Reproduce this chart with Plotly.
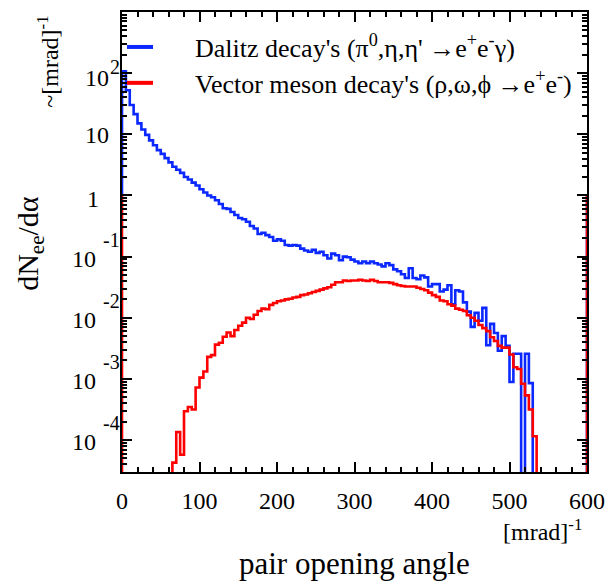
import math
import plotly.graph_objects as go

# ---------------- data ----------------
BIN_WIDTH = 5  # mrad
bin_lo = list(range(0, 600, BIN_WIDTH))  # lower bin edges [mrad]

dalitz = [
    107, 52.5, 30.2, 21.4, 15.1, 12.0, 9.77, 7.94, 6.61, 5.50,
    4.79, 4.07, 3.47, 2.95, 2.63, 2.34, 2.00, 1.82, 1.62, 1.45,
    1.26, 1.12, 1.00, 0.933, 0.832, 0.724, 0.617, 0.603, 0.537, 0.479,
    0.427, 0.407, 0.372, 0.316, 0.288, 0.234, 0.245, 0.224, 0.209, 0.182,
    0.191, 0.182, 0.155, 0.151, 0.155, 0.151, 0.135, 0.126, 0.120, 0.129,
    0.115, 0.120, 0.105, 0.0933, 0.112, 0.105, 0.0871, 0.100, 0.0977, 0.0891,
    0.0832, 0.0776, 0.0832, 0.0776, 0.0832, 0.0776, 0.0741, 0.0692, 0.0776, 0.0724,
    0.0617, 0.0575, 0.0513, 0.0447, 0.0646, 0.0447, 0.0427, 0.0490, 0.0457, 0.0324,
    0.0355, 0.0355, 0.0269, 0.0288, 0.0339, 0.0166, 0.0282, 0.0269, 0.0178, 0.0126,
    0.00708, 0.0120, 0.00891, 0.0145, 0.00355, 0.00794, 0.00562, 0.00288, 0.00501, 0.00347,
    0.000891, 0.00257, 0.00257, 0, 0.00257, 0.000851, 0, 0, 0, 0,
    0, 0, 0, 0, 0, 0, 0, 0, 0, 0,
]

vector = [
    0, 0, 0, 0, 0, 0, 0, 0, 0, 0,
    0, 0, 0, 4.27e-5, 1.35e-4, 5.75e-5, 2.95e-4, 3.47e-4, 3.16e-4, 7.24e-4,
    1.05e-3, 1.32e-3, 2.29e-3, 2.45e-3, 3.63e-3, 3.89e-3, 4.90e-3, 5.75e-3, 5.01e-3, 6.31e-3,
    7.41e-3, 8.32e-3, 0.0100, 0.00955, 0.0112, 0.0129, 0.0141, 0.0138, 0.0162, 0.0174,
    0.0186, 0.0191, 0.0200, 0.0204, 0.0214, 0.0219, 0.0234, 0.0240, 0.0251, 0.0263,
    0.0275, 0.0288, 0.0302, 0.0316, 0.0347, 0.0380, 0.0380, 0.0407, 0.0398, 0.0407,
    0.0407, 0.0417, 0.0407, 0.0398, 0.0417, 0.0398, 0.0380, 0.0380, 0.0380, 0.0372,
    0.0355, 0.0339, 0.0331, 0.0324, 0.0324, 0.0324, 0.0309, 0.0295, 0.0282, 0.0257,
    0.0234, 0.0219, 0.0191, 0.0186, 0.0166, 0.0158, 0.0141, 0.0135, 0.0129, 0.0110,
    0.0100, 0.00891, 0.00759, 0.00676, 0.00603, 0.00479, 0.00417, 0.00347, 0.00324, 0.00324,
    0.00251, 0.00155, 0.00145, 0.000832, 0.000537, 0.000316, 0.000115, 0, 0, 0,
    0, 0, 0, 0, 0, 0, 0, 0, 0, 0,
]

x_ticks = [0, 100, 200, 300, 400, 500, 600]
y_exponents = [-4, -3, -2, -1, 0, 1, 2]
series_names = ["Dalitz decay's (π<sup>0</sup>,η,η' →e<sup>+</sup>e<sup>-</sup>γ)",
                "Vector meson decay's (ρ,ω,ϕ →e<sup>+</sup>e<sup>-</sup>)"]

X_MAX = 600
Y_MIN, Y_MAX = 3e-5, 1e3
HIST_BASE = 1.0      # ROOT closes the outline at 1 on a log scale
EMPTY = 1e-9         # empty bins drop below the frame

FONT = "Liberation Serif"
BLUE = "#0a28ff"
RED = "#ff0000"


def step_path(values):
    xs = [0] + bin_lo + [X_MAX]
    ys = [HIST_BASE] + [v if v > 0 else EMPTY for v in values] + [HIST_BASE]
    return xs, ys


fig = go.Figure()
for vals, col in [(dalitz, BLUE), (vector, RED)]:
    xs, ys = step_path(vals)
    fig.add_trace(go.Scatter(x=xs, y=ys, mode="lines", line=dict(color=col, width=2.6, shape="hv"),
                             showlegend=False, hoverinfo="skip"))

minor_y = [m * 10 ** e for e in range(-5, 3) for m in range(2, 10) if Y_MIN <= m * 10 ** e <= Y_MAX]

fig.update_layout(
    width=616, height=582,
    margin=dict(l=122, r=29, t=10, b=110),
    paper_bgcolor="white", plot_bgcolor="white",
    font=dict(family=FONT, color="black"),
    xaxis=dict(range=[0, X_MAX], tickmode="array", tickvals=x_ticks,
               ticks="inside", ticklen=10, tickwidth=1.5, tickcolor="black",
               minor=dict(ticks="inside", dtick=20, ticklen=5, tickwidth=1.5, tickcolor="black"),
               showline=True, linewidth=2.2, linecolor="black", mirror="ticks",
               showgrid=False, zeroline=False,
               tickfont=dict(family=FONT, size=24, color="black"), ticklabelstandoff=6),
    yaxis=dict(type="log", range=[math.log10(Y_MIN), math.log10(Y_MAX)], tickmode="array",
               tickvals=[10 ** e for e in y_exponents], showticklabels=False,
               ticks="inside", ticklen=10, tickwidth=1.5, tickcolor="black",
               minor=dict(ticks="inside", tickvals=minor_y, ticklen=5, tickwidth=1.5, tickcolor="black"),
               showline=True, linewidth=2.2, linecolor="black", mirror="ticks",
               showgrid=False, zeroline=False),
)

ann = []
# y tick labels in ROOT style
for e in y_exponents:
    if e == 0:
        ann.append(dict(text="1", x=0, xref="paper", y=e, yref="y", xanchor="right", yanchor="middle",
                        xshift=-21, yshift=-4, showarrow=False, font=dict(size=24)))
    elif e == 1:
        ann.append(dict(text="10", x=0, xref="paper", y=e, yref="y", xanchor="right", yanchor="middle",
                        xshift=-11, yshift=-1, showarrow=False, font=dict(size=24)))
    elif e == 2:
        ann.append(dict(text="10", x=0, xref="paper", y=e, yref="y", xanchor="right", yanchor="middle",
                        xshift=-11, yshift=-5, showarrow=False, font=dict(size=24)))
        ann.append(dict(text=str(e), x=0, xref="paper", y=e, yref="y", xanchor="right", yanchor="middle",
                        xshift=0, yshift=6, showarrow=False, font=dict(size=20)))
    else:
        ann.append(dict(text="10", x=0, xref="paper", y=e, yref="y", xanchor="right", yanchor="middle",
                        xshift=-24, yshift=-2, showarrow=False, font=dict(size=24)))
        ann.append(dict(text=str(e), x=0, xref="paper", y=e, yref="y", xanchor="right", yanchor="middle",
                        xshift=0, yshift=17, showarrow=False, font=dict(size=20)))

# axis titles
ann.append(dict(text="pair opening angle", x=0.5, xref="paper", y=0, yref="paper",
                xanchor="center", yanchor="middle", yshift=-91, showarrow=False, font=dict(size=31)))
ann.append(dict(text="[mrad]<sup>-1</sup>", x=1, xref="paper", y=0, yref="paper",
                xanchor="right", yanchor="middle", xshift=-3, yshift=-58, showarrow=False, font=dict(size=24)))
ann.append(dict(text="dN<sub>ee</sub>/dα", x=0, xref="paper", y=0.496, yref="paper", textangle=-90,
                xanchor="center", yanchor="middle", xshift=-92, showarrow=False, font=dict(size=30)))
ann.append(dict(text="~[mrad]<sup>-1</sup>", x=0, xref="paper", y=0.892, yref="paper", textangle=-90,
                xanchor="center", yanchor="middle", xshift=-74, showarrow=False, font=dict(size=24)))

# legend
shapes = []
for name, col, ypos in [(series_names[0], BLUE, 0.924), (series_names[1], RED, 0.846)]:
    shapes.append(dict(type="line", xref="paper", yref="paper", x0=0.0108, x1=0.0667, y0=ypos, y1=ypos,
                       line=dict(color=col, width=4)))
    ann.append(dict(text=name, x=0.1527, xref="paper", y=ypos, yref="paper", xanchor="left",
                    yanchor="middle", showarrow=False, font=dict(size=26)))

fig.update_layout(annotations=ann, shapes=shapes)
fig.write_html("out.html")
